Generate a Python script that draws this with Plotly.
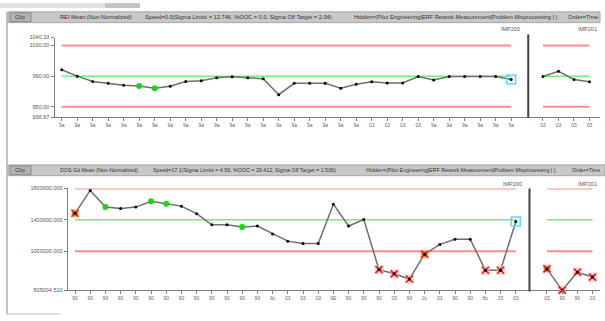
import plotly.graph_objects as go

# ---------------- data ----------------
top_seg1 = [998.4, 990.0, 983.1, 980.6, 978.0, 977.2, 974.2, 976.8, 983.1, 984.0,
            987.8, 989.1, 987.8, 986.6, 965.8, 980.6, 980.6, 980.6, 974.2, 979.3,
            982.7, 981.0, 981.0, 989.5, 984.9, 989.5, 989.5, 989.5, 989.5, 985.7]
top_seg2 = [989.5, 996.4, 985.7, 982.7]
top_limits = {"ucl": 1030.0, "target": 990.0, "lcl": 950.0}
top_green = [5, 6]
top_cyan = [29]
top_yticks = [936.67, 950.0, 990.0, 1030.0, 1040.33]
top_ytick_text = ["936.67", "950.00", "990.00", "1030.00", "1040.33"]
top_xlabels1 = ["9a"] * 20 + ["03"] * 4 + ["9a"] * 6
top_xlabels2 = ["03", "03", "03", "03"]

bot_seg1 = [1483750, 1775000, 1562500, 1546000, 1562500, 1637500, 1604000, 1575000,
            1479000, 1337500, 1337500, 1308000, 1321000, 1221000, 1129000, 1100000,
            1100000, 1600000, 1321250, 1403750, 766250, 712500, 646250, 962500,
            1087500, 1153750, 1153750, 758750, 758750, 1378750]
bot_seg2 = [775000, 505004.51, 733750, 671250]
bot_limits = {"ucl": 1800000.0, "target": 1400000.0, "lcl": 1000000.0}
bot_green = [2, 5, 6, 11]
bot_redx1 = [0, 20, 21, 22, 23, 27, 28]
bot_fill1 = [0, 23]
bot_redx2 = [0, 1, 2, 3]
bot_fill2 = [0]
bot_cyan = [29]
bot_yticks = [505004.51, 1000000.0, 1400000.0, 1800000.0]
bot_ytick_text = ["505004.510", "1000000.000", "1400000.000", "1800000.000"]
bot_xlabels1 = ["90"] * 13 + ["9c", "03", "03", "03", "9E", "90", "90", "90", "03", "90",
                              "2c", "03", "90", "90", "8c", "03", "03"]
bot_xlabels2 = ["03", "90", "90", "03"]

top_title = ["REI Mean (Non-Normalized)",
             "Speed=0.0(Sigma Limits = 12.746, %OOC = 0.0, Sigma Off Target = 2.04)",
             "Hidden=(Pilot Engineering|ERF Rework Measurement|Problem Misprocessing | )",
             "Order=Time"]
bot_title = ["DOS Gd Mean (Non-Normalized)",
             "Speed=17.1(Sigma Limits = 4.59, %OOC = 29.412, Sigma Off Target = 1.536)",
             "Hidden=(Pilot Engineering|ERF Rework Measurement|Problem Misprocessing | )",
             "Order=Time"]
group_labels = ["IMP200", "IMP201"]

# ---------------- layout helpers ----------------
W, H = 605, 321
def px(x): return x / W
def py(y): return 1 - y / H

FONT = "Liberation Sans, Arial, sans-serif"
RED = "rgb(255,140,140)"
GREEN = "rgb(120,235,120)"
LINEC = "rgb(110,110,110)"
CYAN = "rgb(90,220,255)"

SEG2_OFF = 31.05
x1 = list(range(len(top_seg1)))
x2 = [SEG2_OFF + i for i in range(len(top_seg2))]
bx1 = list(range(len(bot_seg1)))
bx2 = [SEG2_OFF + i for i in range(len(bot_seg2))]

fig = go.Figure()

def add_panel(xs1, ys1, xs2, ys2, limits, xa, ya):
    for xs in (xs1, xs2):
        for key, col, w in (("ucl", RED, 2), ("lcl", RED, 2), ("target", GREEN, 1.5)):
            fig.add_trace(go.Scatter(x=[xs[0], xs[-1]], y=[limits[key]] * 2, mode="lines",
                                     line=dict(color=col, width=w), xaxis=xa, yaxis=ya,
                                     hoverinfo="skip"))
    for xs, ys in ((xs1, ys1), (xs2, ys2)):
        fig.add_trace(go.Scatter(x=xs, y=ys, mode="lines+markers",
                                 line=dict(color=LINEC, width=1.5),
                                 marker=dict(color="black", size=3),
                                 xaxis=xa, yaxis=ya, cliponaxis=False))

def add_markers(xs, ys, idx, xa, ya, **mk):
    if not idx:
        return
    fig.add_trace(go.Scatter(x=[xs[i] for i in idx], y=[ys[i] for i in idx], mode="markers",
                             marker=mk, xaxis=xa, yaxis=ya, cliponaxis=False))

add_panel(x1, top_seg1, x2, top_seg2, top_limits, "x", "y")
add_panel(bx1, bot_seg1, bx2, bot_seg2, bot_limits, "x2", "y2")

# out-of-control red X markers
for xs, ys, idx, fill in ((bx1, bot_seg1, bot_redx1, bot_fill1), (bx2, bot_seg2, bot_redx2, bot_fill2)):
    add_markers(xs, ys, idx, "x2", "y2", symbol="square", size=9, color="rgba(255,170,170,0.5)")
    add_markers(xs, ys, fill, "x2", "y2", symbol="square", size=6, color="rgb(200,140,0)")
    add_markers(xs, ys, idx, "x2", "y2", symbol="x-thin", size=7, color="rgb(235,30,30)",
                line=dict(color="rgb(235,30,30)", width=1.6))
    add_markers(xs, ys, idx, "x2", "y2", symbol="circle", size=3, color="black")

# green dots
add_markers(x1, top_seg1, top_green, "x", "y", symbol="circle", size=6, color="rgb(30,210,30)")
add_markers(bx1, bot_seg1, bot_green, "x2", "y2", symbol="circle", size=6, color="rgb(30,210,30)")
# cyan squares
add_markers(x1, top_seg1, top_cyan, "x", "y", symbol="square-open", size=9, color=CYAN,
            line=dict(color=CYAN, width=1.5))
add_markers(bx1, bot_seg1, bot_cyan, "x2", "y2", symbol="square-open", size=9, color=CYAN,
            line=dict(color=CYAN, width=1.5))

tickfont = dict(family=FONT, size=5, color="#666")
axis_common = dict(showgrid=False, zeroline=False, showline=True, linecolor="#808080",
                   linewidth=1, ticks="outside", ticklen=3, tickcolor="#808080",
                   tickfont=tickfont, fixedrange=True)

fig.update_layout(
    width=W, height=H, margin=dict(l=0, r=0, t=0, b=0),
    paper_bgcolor="white", plot_bgcolor="white", showlegend=False,
    xaxis=dict(domain=[px(54.5), px(600)], range=[(54.5 - 61.7) / 15.5, (600 - 61.7) / 15.5],
               anchor="y", tickvals=x1 + x2, ticktext=top_xlabels1 + top_xlabels2,
               tickangle=0, **axis_common),
    yaxis=dict(domain=[py(116.2), py(35.2)], range=[936.67, 1040.33], anchor="x",
               tickvals=top_yticks, ticktext=top_ytick_text,
               **{**axis_common, "tickfont": dict(family=FONT, size=5.5, color="#555")}),
    xaxis2=dict(domain=[px(67.7), px(600)], range=[(67.7 - 75) / 15.2, (600 - 75) / 15.2],
                anchor="y2", tickvals=bx1 + bx2, ticktext=bot_xlabels1 + bot_xlabels2,
                tickangle=0, **axis_common),
    yaxis2=dict(domain=[py(292.6), py(189)], range=[505004.51, 1800000], anchor="x2",
                tickvals=bot_yticks, ticktext=bot_ytick_text,
                **{**axis_common, "tickfont": dict(family=FONT, size=5.5, color="#555")}),
)

shapes = []
# top tab strip and left border
shapes.append(dict(type="rect", xref="paper", yref="paper", x0=0, x1=px(105), y0=py(5), y1=py(0),
                   fillcolor="#e2e2e2", line=dict(width=0), layer="below"))
shapes.append(dict(type="rect", xref="paper", yref="paper", x0=px(105), x1=px(140), y0=py(5), y1=py(0),
                   fillcolor="#c4c4c4", line=dict(width=0), layer="below"))
shapes.append(dict(type="line", xref="paper", yref="paper", x0=px(7), x1=px(7), y0=py(318), y1=py(9),
                   line=dict(color="#c4c4c4", width=2)))
shapes.append(dict(type="line", xref="paper", yref="paper", x0=px(7), x1=px(60), y0=py(317), y1=py(317),
                   line=dict(color="#d0d0d0", width=1.5)))
# header bars
for (y0, y1, xr) in ((9, 20, 600), (165, 176, 605)):
    shapes.append(dict(type="rect", xref="paper", yref="paper", x0=px(8), x1=px(xr), y0=py(y1), y1=py(y0),
                       fillcolor="#c8c8c8", line=dict(color="#a8a8a8", width=1)))
    shapes.append(dict(type="rect", xref="paper", yref="paper", x0=px(10), x1=px(31), y0=py(y1 - 1), y1=py(y0 + 1),
                       fillcolor="#b2b2b2", line=dict(color="#8a8a8a", width=1)))
# segment separators
shapes.append(dict(type="line", xref="x", yref="paper", x0=30.1, x1=30.1, y0=py(117), y1=py(32),
                   line=dict(color="#404040", width=2)))
shapes.append(dict(type="line", xref="x2", yref="paper", x0=29.9, x1=29.9, y0=py(294), y1=py(189),
                   line=dict(color="#404040", width=2)))
fig.update_layout(shapes=shapes)

ann = []
for yc, titles, xs, fs in ((14.5, top_title, (58, 143, 352, 566), 5.7),
                           (170.5, bot_title, (58, 151, 364, 570), 5.3)):
    hfont = dict(family=FONT, size=fs, color="#333")
    ann.append(dict(text="Clip", x=px(20.5), y=py(yc), xref="paper", yref="paper", showarrow=False,
                    xanchor="center", yanchor="middle", font=dict(family=FONT, size=5.7, color="#333")))
    for t, xx in zip(titles, xs):
        ann.append(dict(text=t, x=px(xx), y=py(yc), xref="paper", yref="paper", showarrow=False,
                        xanchor="left", yanchor="middle", font=hfont))
lfont = dict(family=FONT, size=5.5, color="#555")
for yc, xs in ((27, (510, 587)), (184.5, (512, 587))):
    for t, xx in zip(group_labels, xs):
        ann.append(dict(text=t, x=px(xx), y=py(yc), xref="paper", yref="paper", showarrow=False,
                        xanchor="center", yanchor="middle", font=lfont))
fig.update_layout(annotations=ann)

fig.write_html("out.html", config={"displayModeBar": False},
               post_script="document.body.style.margin='0';document.body.style.overflow='hidden';")
